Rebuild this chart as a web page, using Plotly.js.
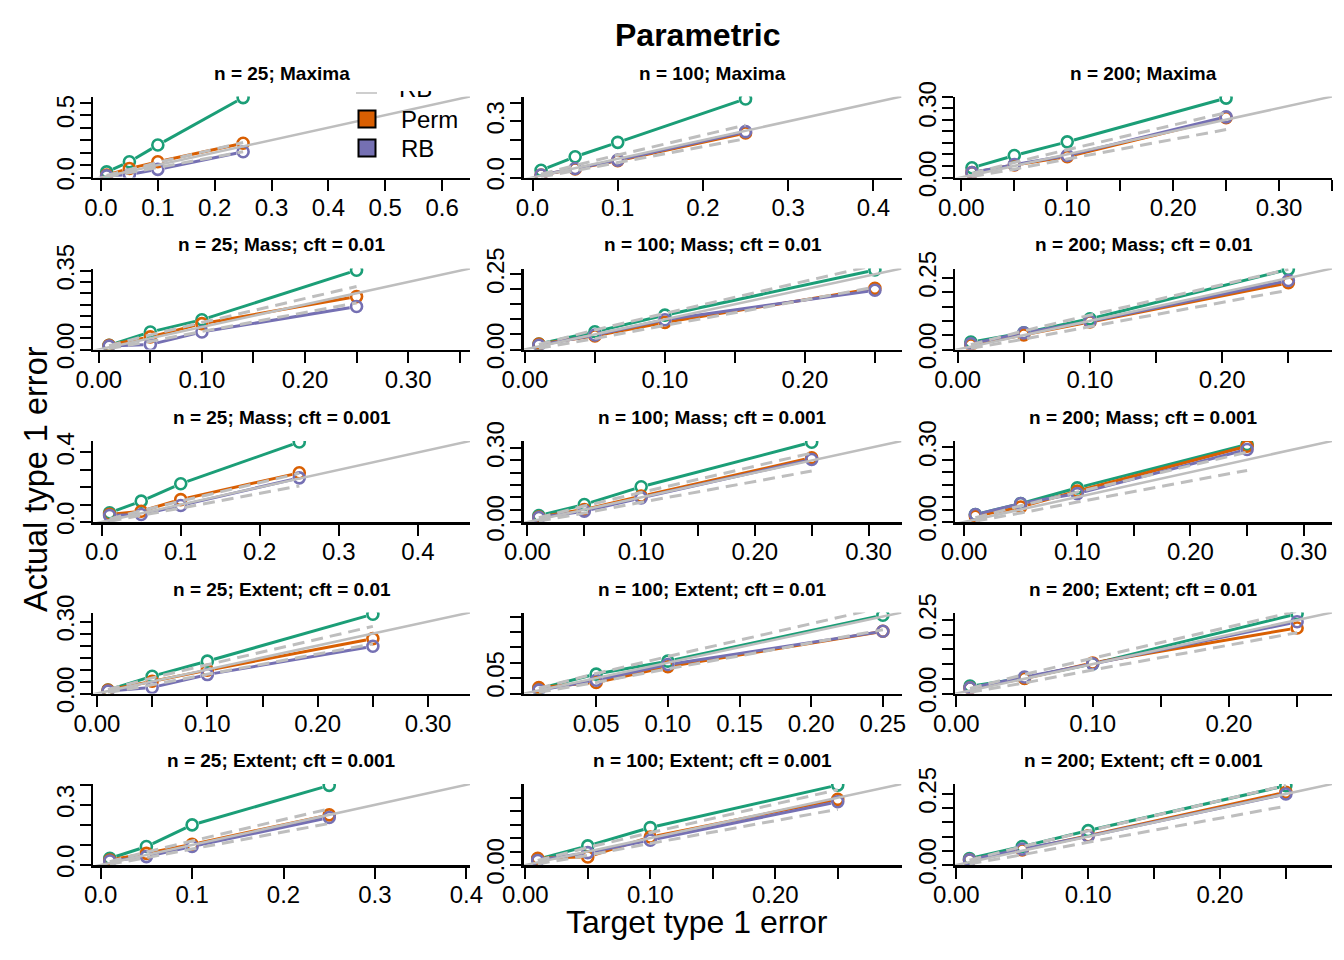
<!DOCTYPE html>
<html><head><meta charset="utf-8">
<script src="https://cdn.plot.ly/plotly-3.0.1.min.js"></script>
<style>html,body{margin:0;padding:0;background:#fff}</style>
</head><body><div id="plot" style="width:1344px;height:960px"></div>
<script>
// ---------------- data ----------------
const targets = [0.01, 0.05, 0.10, 0.25];
const panelTitles = [
  "n = 25; Maxima", "n = 100; Maxima", "n = 200; Maxima",
  "n = 25; Mass; cft = 0.01", "n = 100; Mass; cft = 0.01", "n = 200; Mass; cft = 0.01",
  "n = 25; Mass; cft = 0.001", "n = 100; Mass; cft = 0.001", "n = 200; Mass; cft = 0.001",
  "n = 25; Extent; cft = 0.01", "n = 100; Extent; cft = 0.01", "n = 200; Extent; cft = 0.01",
  "n = 25; Extent; cft = 0.001", "n = 100; Extent; cft = 0.001", "n = 200; Extent; cft = 0.001"
];
const paramActual = [
  [0.045, 0.126, 0.260, 0.640],
  [0.039, 0.111, 0.188, 0.420],
  [0.042, 0.095, 0.154, 0.343],
  [0.019, 0.078, 0.132, 0.352],
  [0.018, 0.059, 0.114, 0.264],
  [0.026, 0.058, 0.107, 0.280],
  [0.053, 0.120, 0.220, 0.460],
  [0.026, 0.071, 0.143, 0.324],
  [0.030, 0.074, 0.137, 0.311],
  [0.014, 0.072, 0.135, 0.331],
  [0.016, 0.063, 0.105, 0.254],
  [0.025, 0.053, 0.101, 0.271],
  [0.033, 0.092, 0.200, 0.397],
  [0.021, 0.071, 0.139, 0.297],
  [0.023, 0.065, 0.121, 0.279]
];
const permActual = [
  [0.020, 0.072, 0.126, 0.274],
  [0.013, 0.046, 0.090, 0.238],
  [0.021, 0.054, 0.090, 0.258],
  [0.019, 0.056, 0.115, 0.235],
  [0.018, 0.045, 0.090, 0.203],
  [0.016, 0.051, 0.096, 0.233],
  [0.044, 0.062, 0.129, 0.283],
  [0.020, 0.051, 0.105, 0.261],
  [0.023, 0.060, 0.124, 0.304],
  [0.014, 0.051, 0.097, 0.229],
  [0.019, 0.036, 0.087, 0.202],
  [0.019, 0.051, 0.104, 0.223],
  [0.025, 0.058, 0.103, 0.250],
  [0.025, 0.030, 0.104, 0.244],
  [0.018, 0.053, 0.103, 0.256]
];
const rbActual = [
  [0.013, 0.024, 0.065, 0.206],
  [0.013, 0.048, 0.093, 0.245],
  [0.021, 0.056, 0.095, 0.262],
  [0.015, 0.022, 0.078, 0.191],
  [0.014, 0.048, 0.099, 0.197],
  [0.020, 0.058, 0.098, 0.241],
  [0.037, 0.043, 0.095, 0.254],
  [0.018, 0.044, 0.098, 0.254],
  [0.030, 0.074, 0.114, 0.291],
  [0.010, 0.025, 0.079, 0.197],
  [0.011, 0.043, 0.094, 0.202],
  [0.019, 0.056, 0.101, 0.244],
  [0.020, 0.042, 0.092, 0.237],
  [0.017, 0.046, 0.092, 0.235],
  [0.018, 0.056, 0.101, 0.250]
];
const bandLower = [0.004, 0.036, 0.080, 0.207];
const bandUpper = [0.017, 0.065, 0.120, 0.280];

const xTickVals = [
  [0, 0.1, 0.2, 0.3, 0.4, 0.5, 0.6],
  [0, 0.1, 0.2, 0.3, 0.4],
  [0, 0.05, 0.1, 0.15, 0.2, 0.25, 0.3, 0.35],
  [0, 0.05, 0.1, 0.15, 0.2, 0.25, 0.3, 0.35],
  [0, 0.05, 0.1, 0.15, 0.2, 0.25],
  [0, 0.05, 0.1, 0.15, 0.2, 0.25],
  [0, 0.1, 0.2, 0.3, 0.4],
  [0, 0.05, 0.1, 0.15, 0.2, 0.25, 0.3],
  [0, 0.05, 0.1, 0.15, 0.2, 0.25, 0.3],
  [0, 0.05, 0.1, 0.15, 0.2, 0.25, 0.3],
  [0.05, 0.1, 0.15, 0.2, 0.25],
  [0, 0.05, 0.1, 0.15, 0.2, 0.25],
  [0, 0.1, 0.2, 0.3, 0.4],
  [0, 0.05, 0.1, 0.15, 0.2, 0.25],
  [0, 0.05, 0.1, 0.15, 0.2, 0.25]
];
const xTickText = [
  ["0.0", "0.1", "0.2", "0.3", "0.4", "0.5", "0.6"],
  ["0.0", "0.1", "0.2", "0.3", "0.4"],
  ["0.00", "", "0.10", "", "0.20", "", "0.30", ""],
  ["0.00", "", "0.10", "", "0.20", "", "0.30", ""],
  ["0.00", "", "0.10", "", "0.20", ""],
  ["0.00", "", "0.10", "", "0.20", ""],
  ["0.0", "0.1", "0.2", "0.3", "0.4"],
  ["0.00", "", "0.10", "", "0.20", "", "0.30"],
  ["0.00", "", "0.10", "", "0.20", "", "0.30"],
  ["0.00", "", "0.10", "", "0.20", "", "0.30"],
  ["0.05", "0.10", "0.15", "0.20", "0.25"],
  ["0.00", "", "0.10", "", "0.20", ""],
  ["0.0", "0.1", "0.2", "0.3", "0.4"],
  ["0.00", "", "0.10", "", "0.20", ""],
  ["0.00", "", "0.10", "", "0.20", ""]
];
const yTickVals = [
  [0, 0.1, 0.2, 0.3, 0.4, 0.5, 0.6],
  [0, 0.1, 0.2, 0.3, 0.4],
  [0, 0.05, 0.1, 0.15, 0.2, 0.25, 0.3, 0.35],
  [0, 0.05, 0.1, 0.15, 0.2, 0.25, 0.3, 0.35],
  [0, 0.05, 0.1, 0.15, 0.2, 0.25],
  [0, 0.05, 0.1, 0.15, 0.2, 0.25],
  [0, 0.1, 0.2, 0.3, 0.4],
  [0, 0.05, 0.1, 0.15, 0.2, 0.25, 0.3],
  [0, 0.05, 0.1, 0.15, 0.2, 0.25, 0.3],
  [0, 0.05, 0.1, 0.15, 0.2, 0.25, 0.3],
  [0, 0.05, 0.1, 0.15, 0.2, 0.25],
  [0, 0.05, 0.1, 0.15, 0.2, 0.25],
  [0, 0.1, 0.2, 0.3, 0.4],
  [0, 0.05, 0.1, 0.15, 0.2, 0.25],
  [0, 0.05, 0.1, 0.15, 0.2, 0.25]
];
const yTickText = [
  ["0.0", "", "", "", "", "0.5", ""],
  ["0.0", "", "", "0.3", ""],
  ["0.00", "", "", "", "", "", "0.30", ""],
  ["0.00", "", "", "", "", "", "", "0.35"],
  ["0.00", "", "", "", "", "0.25"],
  ["0.00", "", "", "", "", "0.25"],
  ["0.0", "", "", "", "0.4"],
  ["0.00", "", "", "", "", "", "0.30"],
  ["0.00", "", "", "", "", "", "0.30"],
  ["0.00", "", "", "", "", "", "0.30"],
  ["", "0.05", "", "", "", ""],
  ["0.00", "", "", "", "", "0.25"],
  ["0.0", "", "", "0.3", ""],
  ["0.00", "", "", "", "", ""],
  ["0.00", "", "", "", "", "0.25"]
];
const legendLabels = ["RB", "Perm", "RB"];
const seriesColors = ["#1B9E77", "#D95F02", "#7570B3"];

// ---------------- layout constants ----------------
const W = 1344, H = 960;
const FONT = "Liberation Sans, Arial, Helvetica, sans-serif";
const colL = [93, 523.5, 955], colR = [470, 901.5, 1332];
const rowB = [177.5, 349.5, 522, 693.5, 865];
const panelH = 81;
const axisHi = [0.649, 0.433, 0.35, 0.36, 0.269, 0.283, 0.466, 0.329, 0.325, 0.338, 0.263, 0.2756, 0.404, 0.301, 0.285];
const axisLo = [-0.014, -0.0106, -0.006, -0.0056, -0.001, -0.002, -0.011, -0.0035, -0.008, -0.0036, -0.0007, -0.001, -0.0084, -0.0014, -0.001];
const POINT_GAP = 7; // px left free around each point, like R's type = "b"

const traces = [];
const layout = {
  width: W, height: H, margin: {l: 0, r: 0, t: 0, b: 0},
  paper_bgcolor: "#fff", plot_bgcolor: "rgba(0,0,0,0)",
  showlegend: false, font: {family: FONT, color: "#000"},
  annotations: [], shapes: []
};

const seriesVals = [paramActual, permActual, rbActual];

// segments between consecutive points, shortened near each point (type "b" look)
function gappedSegments(xs, ys, i, c) {
  const lo = axisLo[i], hi = axisHi[i];
  const sx = (colR[c] - colL[c]) / (hi - lo), sy = panelH / hi;
  const gx = [], gy = [];
  for (let k = 0; k < xs.length - 1; k++) {
    const dxp = (xs[k + 1] - xs[k]) * sx, dyp = (ys[k + 1] - ys[k]) * sy;
    const d = Math.hypot(dxp, dyp);
    if (d <= 2 * POINT_GAP + 1) continue;
    const f = POINT_GAP / d;
    const ddx = xs[k + 1] - xs[k], ddy = ys[k + 1] - ys[k];
    gx.push(xs[k] + f * ddx, xs[k + 1] - f * ddx, null);
    gy.push(ys[k] + f * ddy, ys[k + 1] - f * ddy, null);
  }
  return {x: gx, y: gy};
}

for (let i = 0; i < 15; i++) {
  const r = Math.floor(i / 3), c = i % 3;
  const xa = i === 0 ? "x" : "x" + (i + 1);
  const ya = i === 0 ? "y" : "y" + (i + 1);
  const xk = i === 0 ? "xaxis" : "xaxis" + (i + 1);
  const yk = i === 0 ? "yaxis" : "yaxis" + (i + 1);
  const B = rowB[r], T = B - panelH;
  const common = {
    showline: true, linecolor: "#000", linewidth: 2.5, mirror: false,
    ticks: "outside", ticklen: 11, tickwidth: 2, tickcolor: "#000",
    tickmode: "array", showgrid: false, zeroline: false, fixedrange: true,
    tickfont: {family: FONT, size: 24, color: "#000"}
  };
  layout[xk] = Object.assign({}, common, {
    domain: [colL[c] / W, colR[c] / W], range: [axisLo[i], axisHi[i]], anchor: ya,
    tickvals: xTickVals[i], ticktext: xTickText[i], tickangle: 0, ticklabelstandoff: -4
  });
  layout[yk] = Object.assign({}, common, {
    domain: [1 - B / H, 1 - T / H], range: [0, axisHi[i]], anchor: xa,
    tickvals: yTickVals[i], ticktext: yTickText[i], tickangle: -90, ticklabelstandoff: -4
  });

  seriesVals.forEach((vals, s) => {
    const seg = gappedSegments(targets, vals[i], i, c);
    traces.push({
      type: "scatter", mode: "lines", x: seg.x, y: seg.y, xaxis: xa, yaxis: ya,
      line: {color: seriesColors[s], width: 3}, connectgaps: false, hoverinfo: "skip"
    });
    traces.push({
      type: "scatter", mode: "markers", x: targets, y: vals[i], xaxis: xa, yaxis: ya,
      marker: {symbol: "circle-open", size: 11, color: seriesColors[s], line: {width: 2.6}},
      cliponaxis: true, hoverinfo: "skip"
    });
  });
  [bandLower, bandUpper].forEach(b => {
    traces.push({
      type: "scatter", mode: "lines", x: targets, y: b, xaxis: xa, yaxis: ya,
      line: {color: "#BEBEBE", width: 3, dash: "12px,7px"}, hoverinfo: "skip"
    });
  });
  traces.push({
    type: "scatter", mode: "lines", x: [axisLo[i], axisHi[i]], y: [axisLo[i], axisHi[i]],
    xaxis: xa, yaxis: ya, line: {color: "#BEBEBE", width: 2.5}, hoverinfo: "skip"
  });

  layout.annotations.push({
    text: "<b>" + panelTitles[i] + "</b>", xref: "paper", yref: "paper",
    x: (colL[c] + colR[c]) / 2 / W, y: 1 - (T - 23.5) / H,
    xanchor: "center", yanchor: "middle", showarrow: false,
    font: {family: FONT, size: 19, color: "#000"}
  });
}

// main titles
layout.annotations.push({
  text: "<b>Parametric</b>", xref: "paper", yref: "paper", x: 697 / W, y: 1 - 35 / H,
  xanchor: "center", yanchor: "middle", showarrow: false, font: {family: FONT, size: 32, color: "#000"}
});
layout.annotations.push({
  text: "Target type 1 error", xref: "paper", yref: "paper", x: 697 / W, y: 1 - 922 / H,
  xanchor: "center", yanchor: "middle", showarrow: false, font: {family: FONT, size: 32, color: "#000"}
});
layout.annotations.push({
  text: "Actual type 1 error", xref: "paper", yref: "paper", x: 36 / W, y: 1 - 479 / H,
  xanchor: "center", yanchor: "middle", textangle: -90, showarrow: false,
  font: {family: FONT, size: 32.5, color: "#000"}
});

// legend (partly clipped at the top, as in the reference)
const legY = [90, 119, 148];
layout.shapes.push({type: "line", xref: "paper", yref: "paper",
  x0: 356 / W, x1: 377 / W, y0: 1 - 93 / H, y1: 1 - 93 / H, line: {color: "#BEBEBE", width: 1.5}});
[1, 2].forEach(k => {
  layout.shapes.push({type: "rect", xref: "paper", yref: "paper",
    x0: 358.5 / W, x1: 375.5 / W, y0: 1 - (legY[k] + 8.5) / H, y1: 1 - (legY[k] - 8.5) / H,
    fillcolor: seriesColors[k], line: {color: "#000", width: 2}});
  layout.annotations.push({text: legendLabels[k], xref: "paper", yref: "paper",
    x: 399 / W, y: 1 - legY[k] / H, xanchor: "left", yanchor: "middle", showarrow: false,
    font: {family: FONT, size: 24, color: "#000"}});
});
// clipped first legend label in an overlay subplot whose top edge does the clipping
layout.xaxis16 = {domain: [340 / W, 470 / W], range: [340, 470], visible: false, fixedrange: true, anchor: "y16"};
layout.yaxis16 = {domain: [1 - 110 / H, 1 - 91 / H], range: [110, 91], visible: false, fixedrange: true, anchor: "x16"};
traces.push({type: "scatter", mode: "text", x: [399], y: [legY[0] + 1], text: [legendLabels[0]],
  textposition: "middle right", textfont: {family: FONT, size: 24, color: "#000"},
  xaxis: "x16", yaxis: "y16", cliponaxis: true, hoverinfo: "skip"});

Plotly.newPlot("plot", traces, layout, {staticPlot: true, displayModeBar: false});
</script>
</body></html>
